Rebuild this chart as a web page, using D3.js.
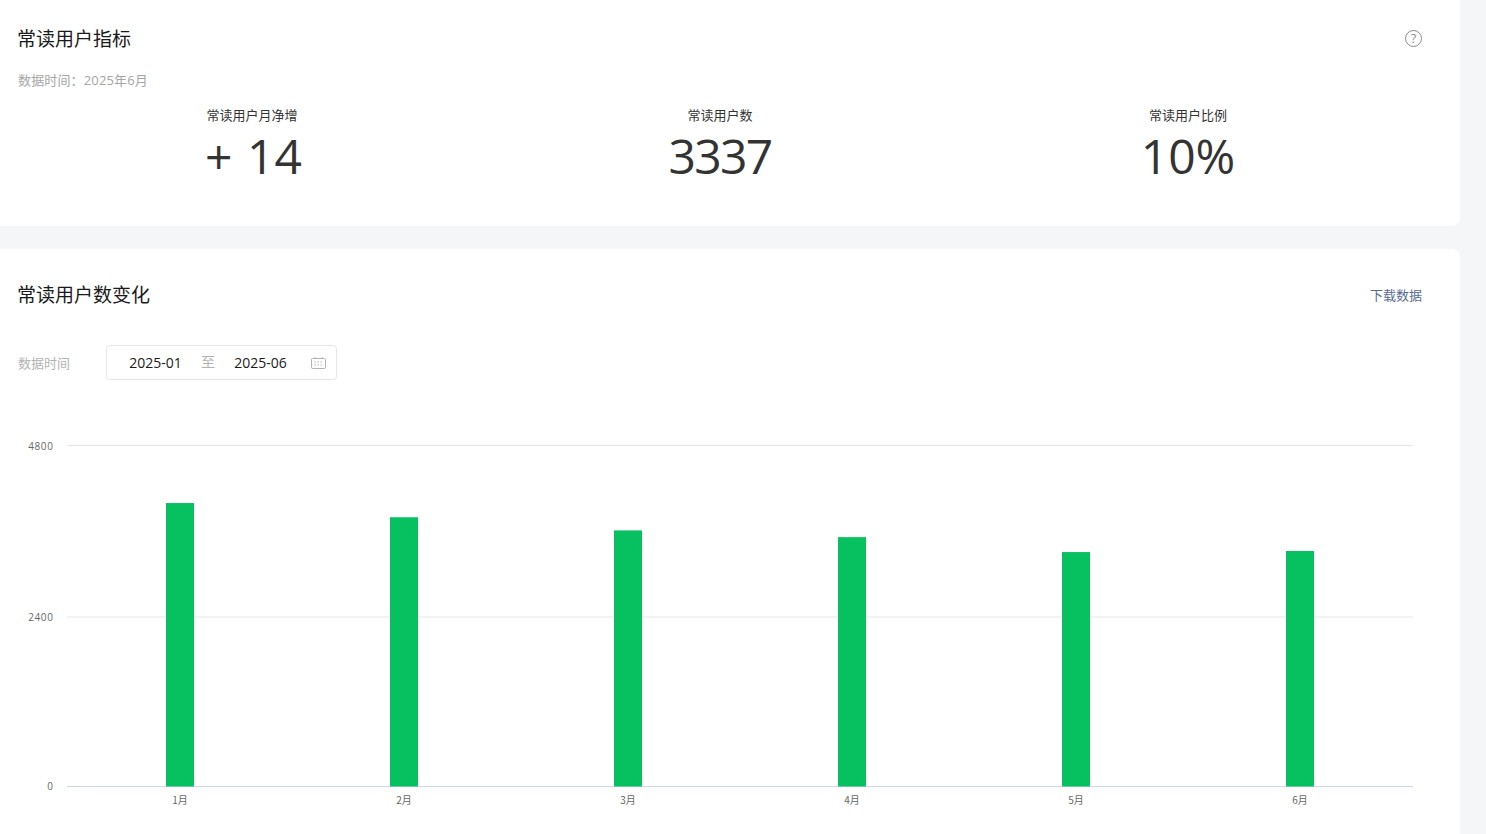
<!DOCTYPE html>
<html>
<head>
<meta charset="utf-8">
<script src="https://cdn.jsdelivr.net/npm/d3@7"></script>
<style>
  html, body { margin: 0; padding: 0; background: #f5f6f8; overflow: hidden; }
  svg { display: block; }
  text { font-family: "Noto Sans CJK SC", "Open Sans", sans-serif; }
  .latin { font-family: "Open Sans", "Noto Sans CJK SC", sans-serif; }
</style>
</head>
<body>
<div id="chart"></div>
<script>
// chart values
const months = ['1月', '2月', '3月', '4月', '5月', '6月'];
const readers = [3990, 3790, 3605, 3510, 3300, 3315];
const yTicks = [0, 2400, 4800];

const kpiLabels = ['常读用户月净增', '常读用户数', '常读用户比例'];
const kpiValues = ['+ 14', '3337', '10%'];

const svg = d3.select('#chart').append('svg')
    .attr('width', 1486)
    .attr('height', 834);

// cards
svg.append('rect').attr('x', -10).attr('y', -10).attr('width', 1470).attr('height', 236).attr('rx', 8).attr('fill', '#fff');
svg.append('rect').attr('x', -10).attr('y', 249).attr('width', 1470).attr('height', 600).attr('rx', 8).attr('fill', '#fff');

function label(x, y, str, size, fill, anchor) {
    return svg.append('text')
        .attr('x', x)
        .attr('y', y)
        .attr('font-size', size)
        .attr('fill', fill)
        .attr('text-anchor', anchor || 'start')
        .text(str);
}

label(17, 46, '常读用户指标', 19, '#1a1a1a');
label(18, 85, '数据时间：2025年6月', 13, '#a5a5a5').attr('class', 'latin').attr('letter-spacing', 0.15);

const kpiCenter = d3.scalePoint().domain(kpiLabels).range([252, 1188]);

kpiLabels.forEach(d => label(kpiCenter(d), 120, d, 13, '#333', 'middle'));
kpiValues.forEach((d, i) => {
    const t = label(kpiCenter(kpiLabels[i]) + (i === 0 ? 1.5 : 0), 174, d, 48, '#333', 'middle').attr('class', 'latin');
    // the original font has narrower digits, only shows on the four digit number
    if (i === 1) t.attr('letter-spacing', -1.7);
    if (i === 0) t.attr('word-spacing', 2);
});

// help icon
const help = svg.append('g').attr('transform', 'translate(1413.5,38.5)');
help.append('circle').attr('r', 8).attr('fill', 'none').attr('stroke', '#8a8a8a');
help.append('text').attr('class', 'latin').attr('y', 4.5).attr('text-anchor', 'middle').attr('font-size', 12).attr('fill', '#8a8a8a').text('?');

label(17, 302, '常读用户数变化', 19, '#1a1a1a');
label(1422, 300, '下载数据', 13, '#576b95', 'end');

// date range filter
label(18, 368, '数据时间', 13, '#b2b2b2');
svg.append('rect').attr('x', 106.5).attr('y', 345.5).attr('width', 230).attr('height', 34).attr('rx', 3)
    .attr('fill', '#fff').attr('stroke', '#e4e6eb');
label(155.5, 368, '2025-01', 14, '#1a1a1a', 'middle').attr('class', 'latin');
label(208, 367, '至', 14, '#b2b2b2', 'middle');
label(260.5, 368, '2025-06', 14, '#1a1a1a', 'middle').attr('class', 'latin');

// calendar icon
const cal = svg.append('g').attr('transform', 'translate(311.5,358.5)').attr('fill', 'none').attr('stroke', '#b2b2b2');
cal.append('rect').attr('width', 14).attr('height', 10).attr('rx', 1);
cal.append('path').attr('d', 'M3.5 0V-1.5M10.5 0V-1.5');
cal.append('path').attr('d', 'M3 3.5h8M3 6.5h8').attr('stroke-dasharray', '1.5 1.5');

// chart
const x = d3.scaleBand().domain(months).range([68, 1412]);
const y = d3.scaleLinear().domain([0, 4800]).range([786.5, 445.5]);
const barWidth = 28;

// the middle gridline sits between two pixels in the original, one lower than the scale gives
const gridY = d => y(d) % 1 ? y(d) : y(d) + 1;

svg.append('g').selectAll('line')
    .data(yTicks)
    .join('line')
    .attr('x1', 67)
    .attr('x2', 1413)
    .attr('y1', gridY)
    .attr('y2', gridY)
    .attr('stroke', d => d === 0 ? '#ccd6eb' : '#e6e6e6');

svg.append('g').selectAll('text')
    .data(yTicks)
    .join('text')
    .attr('class', 'latin')
    .attr('x', 53.5)
    .attr('y', d => d === 0 ? y(d) + 3.5 : y(d) + 4.5)
    .attr('text-anchor', 'end')
    .attr('font-size', 10)
    .attr('letter-spacing', 0.6)
    .attr('fill', '#666')
    .text(d => d);

svg.append('g').selectAll('rect')
    .data(readers)
    .join('rect')
    .attr('x', (d, i) => x(months[i]) + x.bandwidth() / 2 - barWidth / 2)
    .attr('y', d => y(d))
    .attr('width', barWidth)
    .attr('height', d => y(0) - y(d))
    .attr('fill', '#07c160');

svg.append('g').selectAll('text')
    .data(months)
    .join('text')
    .attr('x', d => x(d) + x.bandwidth() / 2)
    .attr('y', 804)
    .attr('text-anchor', 'middle')
    .attr('font-size', 10)
    .attr('fill', '#666')
    .text(d => d);
</script>
</body>
</html>
